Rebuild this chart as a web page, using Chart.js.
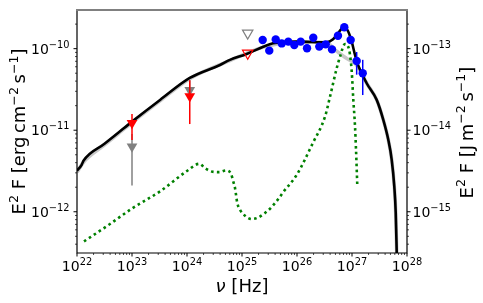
<!DOCTYPE html>
<html>
<head>
<meta charset="utf-8">
<script src="https://cdn.jsdelivr.net/npm/chart.js@4.4.1/dist/chart.umd.min.js"></script>
<style>
  html, body { margin: 0; padding: 0; background: #fff; }
  #wrap { width: 483px; height: 303px; position: relative; }
</style>
</head>
<body>
<div id="wrap"><canvas id="sed"></canvas></div>
<script>
/* SED plot, values */

// total model (black)
const modelNu = [1.0e22, 1.216e22, 1.312e22, 3.162e22, 5.623e22, 1.0e23, 3.236e23, 1.122e24, 3.981e24, 6.026e24,
    1.216e25, 2.438e25, 3.664e25, 9.886e25, 3.467e26, 4.519e26, 5.559e26, 7.244e26, 8.570e26,
    9.886e26, 1.135e27, 1.303e27, 1.849e27, 2.812e27, 3.707e27, 4.571e27, 5.272e27, 5.875e27,
    6.237e27, 6.501e27, 6.668e27];
const modelFlux = [3.19e-12, 3.767e-12, 4.217e-12, 6.81e-12, 9.31e-12, 1.274e-11, 2.350e-11, 4.375e-11, 6.310e-11, 7.278e-11,
    8.610e-11, 1.057e-10, 1.164e-10, 1.219e-10, 1.197e-10, 1.303e-10, 1.542e-10, 1.858e-10, 1.614e-10,
    1.219e-10, 8.375e-11, 6.166e-11, 3.767e-11, 2.355e-11, 1.340e-11, 7.621e-12, 4.335e-12, 2.042e-12,
    9.727e-13, 3.162e-13, 1.479e-13];

// alternative model (light gray, under the black one)
const altNu = [1.0e22, 1.312e22, 3.162e22, 5.623e22, 1.0e23, 3.236e23, 1.122e24, 6.026e24, 2.438e25, 9.886e25, 3.467e26,
    4.898e26, 7.943e26, 1.216e27, 1.849e27, 2.812e27, 3.707e27, 4.571e27, 5.272e27, 5.875e27,
    6.237e27, 6.501e27, 6.668e27];
const altFlux = [3.05e-12, 4.05e-12, 6.6e-12, 9.05e-12, 1.24e-11, 2.29e-11, 4.28e-11, 7.15e-11, 1.045e-10, 1.21e-10, 1.19e-10,
    9.64e-11, 7.6e-11, 6.3e-11, 3.767e-11, 2.355e-11, 1.340e-11, 7.621e-12, 4.335e-12, 2.042e-12,
    9.727e-13, 3.162e-13, 1.479e-13];

// second component (green dotted)
const compNu = [1.340e22, 3.981e22, 1.0e23, 3.236e23, 1.0e24, 1.675e24, 2.123e24, 2.812e24, 3.864e24,
    5.117e24, 6.310e24, 6.950e24, 7.464e24, 8.222e24, 9.204e24, 1.135e25, 1.500e25, 1.977e25,
    2.512e25, 3.228e25, 4.710e25, 5.559e25, 9.886e25, 1.950e26, 3.236e26, 3.981e26, 5.272e26,
    6.053e26, 7.464e26, 8.570e26, 9.204e26, 9.886e26, 1.057e27, 1.135e27, 1.183e27, 1.247e27];
const compFlux = [4.325e-13, 7.079e-13, 1.096e-12, 1.778e-12, 3.162e-12, 3.873e-12, 3.428e-12, 3.112e-12, 3.062e-12,
    3.206e-12, 2.917e-12, 2.344e-12, 1.950e-12, 1.276e-12, 1.057e-12, 8.933e-13, 8.147e-13, 8.511e-13,
    9.462e-13, 1.089e-12, 1.472e-12, 1.722e-12, 2.838e-12, 6.998e-12, 1.469e-11, 2.576e-11, 5.754e-11,
    7.980e-11, 1.140e-10, 1.047e-10, 8.375e-11, 5.236e-11, 2.355e-11, 1.109e-11, 5.754e-12, 2.138e-12];

// blue data points
const blueNu = [2.377e25, 3.133e25, 4.102e25, 5.272e25, 6.950e25, 8.930e25, 1.167e26, 1.521e26, 1.977e26,
    2.541e26, 3.327e26, 4.325e26, 5.559e26, 7.244e26, 9.460e26, 1.216e27, 1.567e27];
const blueFlux = [1.28e-10, 9.46e-11, 1.30e-10, 1.16e-10, 1.22e-10, 1.11e-10, 1.22e-10, 1.01e-10, 1.36e-10,
    1.06e-10, 1.13e-10, 9.8e-11, 1.44e-10, 1.83e-10, 1.28e-10, 7.06e-11, 5.0e-11];
const blueLo = [null, null, null, null, null, null, null, null, null, null, null, null, null, null, null, 4.8e-11, 2.7e-11];
const blueHi = [null, null, null, null, null, null, null, null, null, null, null, null, null, null, null, 9.1e-11, 7.3e-11];

// red / gray filled down triangles with bars
const redNu = [1.0e23, 1.122e24];
const redFlux = [1.22e-11, 2.6e-11];
const redLo = [7.6e-12, 1.19e-11];
const redHi = [1.58e-11, 4.1e-11];
const grayNu = [1.0e23, 1.122e24];
const grayFlux = [6.3e-12, 3.1e-11];
const grayLo = [2.1e-12, 2.6e-11];
const grayHi = [9.0e-12, 4.1e-11];

// open triangles (upper limits)
const limNu = [1.27e25];
const limRed = [8.8e-11];
const limGray = [1.55e-10];

// axes
const xTicks = [1e22, 1e23, 1e24, 1e25, 1e26, 1e27, 1e28];
const yTicks = [1e-12, 1e-11, 1e-10];
const y2Ticks = [1e-15, 1e-14, 1e-13];
const xRange = [1e22, 1e28];
const yRange = [3.12e-13, 2.98e-10];
const ergToJ = 1e-3;   // erg cm^-2 s^-1 -> J m^-2 s^-1

const FONT = '"DejaVu Sans", "Liberation Sans", sans-serif';
const MINUS = "\u2212";

function pts(xs, ys) {
    return xs.map(function(x, i) { return { x: x, y: ys[i] }; });
}

function drawParts(ctx, parts, x, y, align) {
    var w = 0;
    parts.forEach(function(p) {
        ctx.font = (p.it ? "italic " : "") + p.size + "px " + FONT;
        p.w = ctx.measureText(p.t).width;
        w += p.w;
    });
    var cx = align === "center" ? x - w / 2 : (align === "right" ? x - w : x);
    ctx.textAlign = "left";
    ctx.textBaseline = "alphabetic";
    parts.forEach(function(p) {
        ctx.font = (p.it ? "italic " : "") + p.size + "px " + FONT;
        ctx.fillText(p.t, cx, y - (p.up || 0));
        cx += p.w;
    });
}

function powLabel(v) {
    var e = Math.round(Math.log10(v));
    return [{ t: "10", size: 14 }, { t: String(e).replace("-", MINUS), size: 9.8, up: 6 }];
}

function titleParts(unit) {
    // E^2 F [unit]
    var S = 18, s = 12.6, up = 7.5;
    var out = [{ t: "E", size: S }, { t: "2", size: s, up: up }, { t: " F [", size: S }];
    unit.forEach(function(u) {
        out.push({ t: u[0], size: S });
        if (u[1]) out.push({ t: u[1].replace("-", MINUS), size: s, up: up });
    });
    out.push({ t: "]", size: S });
    return out;
}

const errorBars = {
    id: "errorBars",
    afterDatasetDraw: function(chart, args) {
        var ds = chart.data.datasets[args.index];
        if (!ds.errLo) return;
        var ctx = chart.ctx, a = chart.chartArea;
        var sx = chart.scales.x, sy = chart.scales.y;
        ctx.save();
        ctx.beginPath();
        ctx.rect(a.left, a.top, a.right - a.left, a.bottom - a.top);
        ctx.clip();
        ctx.strokeStyle = ds.errColor;
        ctx.lineWidth = 1.5;
        ds.data.forEach(function(p, i) {
            if (ds.errLo[i] == null) return;
            var px = sx.getPixelForValue(p.x);
            ctx.beginPath();
            ctx.moveTo(px, sy.getPixelForValue(ds.errLo[i]));
            ctx.lineTo(px, sy.getPixelForValue(ds.errHi[i]));
            ctx.stroke();
        });
        ctx.restore();
    }
};

const frame = {
    id: "frame",
    afterDraw: function(chart) {
        var ctx = chart.ctx, a = chart.chartArea;
        var sx = chart.scales.x, sy = chart.scales.y, sy2 = chart.scales.y2;
        ctx.save();
        // spines
        ctx.strokeStyle = "#000";
        ctx.lineWidth = 1.2;
        ctx.beginPath();
        ctx.moveTo(a.left, a.top); ctx.lineTo(a.left, a.bottom); ctx.lineTo(a.right, a.bottom); ctx.lineTo(a.right, a.top);
        ctx.stroke();
        ctx.strokeStyle = "#808080";
        ctx.lineWidth = 2;
        ctx.beginPath();
        ctx.moveTo(a.left - 1, a.top); ctx.lineTo(a.right + 1, a.top);
        ctx.stroke();

        // log ticks, major and minor
        function logTicks(scale, cb) {
            var lo = Math.floor(Math.log10(scale.min)), hi = Math.ceil(Math.log10(scale.max));
            for (var n = lo; n <= hi; n++) {
                for (var k = 1; k <= 9; k++) {
                    var v = k * Math.pow(10, n);
                    if (v < scale.min * 0.999 || v > scale.max * 1.001) continue;
                    cb(scale.getPixelForValue(v), k === 1);
                }
            }
        }
        ctx.strokeStyle = "#000";
        logTicks(sx, function(p, major) {
            ctx.lineWidth = major ? 1 : 0.7;
            ctx.beginPath(); ctx.moveTo(p, a.bottom); ctx.lineTo(p, a.bottom + (major ? 3.5 : 2)); ctx.stroke();
        });
        logTicks(sy, function(p, major) {
            ctx.lineWidth = major ? 1 : 0.7;
            ctx.beginPath(); ctx.moveTo(a.left, p); ctx.lineTo(a.left - (major ? 3.5 : 2), p); ctx.stroke();
        });
        logTicks(sy2, function(p, major) {
            ctx.lineWidth = major ? 1 : 0.7;
            ctx.beginPath(); ctx.moveTo(a.right, p); ctx.lineTo(a.right + (major ? 3.5 : 2), p); ctx.stroke();
        });

        // tick labels
        ctx.fillStyle = "#000";
        xTicks.forEach(function(v) { drawParts(ctx, powLabel(v), sx.getPixelForValue(v), a.bottom + 18, "center"); });
        yTicks.forEach(function(v) { drawParts(ctx, powLabel(v), a.left - 7.5, sy.getPixelForValue(v) + 5, "right"); });
        y2Ticks.forEach(function(v) { drawParts(ctx, powLabel(v), a.right + 5.5, sy2.getPixelForValue(v) + 5, "left"); });

        // axis titles
        var cy = (a.top + a.bottom) / 2;
        drawParts(ctx, [{ t: "\u03bd", size: 18, it: true }, { t: " [Hz]", size: 18 }], (a.left + a.right) / 2, 292, "center");
        ctx.save();
        ctx.translate(25, cy);
        ctx.rotate(-Math.PI / 2);
        drawParts(ctx, titleParts([["erg\u2009cm", "-2"], ["\u2009s", "-1"]]), 0, 0, "center");
        ctx.restore();
        ctx.save();
        ctx.translate(a.right + 65.5, cy + 1);
        ctx.rotate(-Math.PI / 2);
        drawParts(ctx, titleParts([["J\u2009m", "-2"], ["\u2009s", "-1"]]), 0, 0, "center");
        ctx.restore();
        ctx.restore();
    }
};

new Chart(document.getElementById("sed"), {
    type: "scatter",
    data: {
        datasets: [
            { data: pts(blueNu, blueFlux), pointStyle: "circle", pointRadius: 4.2, pointBorderWidth: 0,
              pointBackgroundColor: "#0000ff", errLo: blueLo, errHi: blueHi, errColor: "#0000ff" },
            { data: pts(limNu, limRed), pointStyle: "triangle", rotation: 180, pointRadius: 6,
              pointBorderWidth: 1.2, pointBorderColor: "#ff0000", pointBackgroundColor: "rgba(0,0,0,0)" },
            { data: pts(limNu, limGray), pointStyle: "triangle", rotation: 180, pointRadius: 6,
              pointBorderWidth: 1.2, pointBorderColor: "#808080", pointBackgroundColor: "rgba(0,0,0,0)" },
            { data: pts(redNu, redFlux), pointStyle: "triangle", rotation: 180, pointRadius: 6.2,
              pointBorderWidth: 0, pointBackgroundColor: "#ff0000", errLo: redLo, errHi: redHi, errColor: "#ff0000" },
            { data: pts(grayNu, grayFlux), pointStyle: "triangle", rotation: 180, pointRadius: 6.2,
              pointBorderWidth: 0, pointBackgroundColor: "#808080", errLo: grayLo, errHi: grayHi, errColor: "#808080" },
            { data: pts(compNu, compFlux), showLine: true, pointRadius: 0, borderColor: "#008000",
              borderWidth: 2.6, borderDash: [2.6, 3.3], cubicInterpolationMode: "monotone" },
            { data: pts(modelNu, modelFlux), showLine: true, pointRadius: 0, borderColor: "#000",
              borderWidth: 2.6, cubicInterpolationMode: "monotone" },
            { data: pts(altNu, altFlux), showLine: true, pointRadius: 0, borderColor: "#c8c8c8",
              borderWidth: 3.6, cubicInterpolationMode: "monotone" }
        ]
    },
    options: {
        responsive: true,
        maintainAspectRatio: false,
        animation: false,
        layout: { padding: { top: 10, left: 0, right: 0, bottom: 0 } },
        plugins: { legend: { display: false }, tooltip: { enabled: false } },
        scales: {
            x: {
                type: "logarithmic", min: xRange[0], max: xRange[1], bounds: "data",
                grid: { display: false }, border: { display: false }, ticks: { display: false },
                afterBuildTicks: function(s) { s.ticks = xTicks.map(function(v) { return { value: v }; }); },
                afterFit: function(s) { s.height = 50; }
            },
            y: {
                type: "logarithmic", position: "left", min: yRange[0], max: yRange[1], bounds: "data",
                grid: { display: false }, border: { display: false }, ticks: { display: false },
                afterBuildTicks: function(s) { s.ticks = yTicks.map(function(v) { return { value: v }; }); },
                afterFit: function(s) { s.width = 77; }
            },
            y2: {
                type: "logarithmic", position: "right", min: yRange[0] * ergToJ, max: yRange[1] * ergToJ, bounds: "data",
                grid: { display: false }, border: { display: false }, ticks: { display: false },
                afterBuildTicks: function(s) { s.ticks = y2Ticks.map(function(v) { return { value: v }; }); },
                afterFit: function(s) { s.width = 76; }
            }
        }
    },
    plugins: [errorBars, frame]
});
</script>
</body>
</html>
